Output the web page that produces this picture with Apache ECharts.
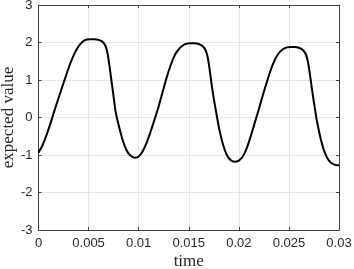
<!DOCTYPE html>
<html>
<head>
<meta charset="utf-8">
<script src="https://cdn.jsdelivr.net/npm/echarts@6/dist/echarts.min.js"></script>
<style>
html, body { margin: 0; padding: 0; background: #fff; }
#chart_div { width: 354px; height: 269px; }
</style>
</head>
<body>
<div id="chart_div"></div>
<script>
// ----------- 数据 -----------
var time_list = [
    0, 0.0004, 0.0008, 0.0012, 0.0016, 0.002, 0.0024, 0.0028, 0.0032, 0.0036,
    0.004, 0.0044, 0.0048, 0.0052, 0.0056, 0.006, 0.0064, 0.0067, 0.0069, 0.0071,
    0.0073, 0.0075, 0.0077, 0.008, 0.0084, 0.0088, 0.0092, 0.0096, 0.01, 0.0104,
    0.0108, 0.0112, 0.0116, 0.012, 0.0124, 0.0128, 0.0132, 0.0136, 0.014, 0.0144,
    0.0148, 0.0152, 0.0156, 0.016, 0.0164, 0.0167, 0.0169, 0.0171, 0.0173, 0.0175,
    0.0177, 0.018, 0.0184, 0.0188, 0.0192, 0.0196, 0.02, 0.0204, 0.0208, 0.0212,
    0.0216, 0.022, 0.0224, 0.0228, 0.0232, 0.0236, 0.024, 0.0244, 0.0248, 0.0252,
    0.0256, 0.026, 0.0264, 0.0267, 0.0269, 0.0271, 0.0273, 0.0275, 0.0278, 0.0282,
    0.0286, 0.029, 0.0294, 0.0298, 0.03
]
var value_list = [
    -0.94, -0.74, -0.47, -0.15, 0.19, 0.52, 0.84, 1.16, 1.46, 1.71,
    1.9, 2.02, 2.08, 2.09, 2.09, 2.07, 2.02, 1.9, 1.7, 1.35,
    0.95, 0.55, 0.15, -0.2, -0.6, -0.88, -1.02, -1.07, -1.04, -0.9,
    -0.67, -0.37, -0.04, 0.3, 0.69, 1.07, 1.4, 1.66, 1.82, 1.92,
    1.97, 1.98, 1.98, 1.96, 1.9, 1.78, 1.6, 1.25, 0.85, 0.5,
    0.2, -0.25, -0.7, -1.0, -1.14, -1.18, -1.15, -1.04, -0.81, -0.49,
    -0.13, 0.22, 0.6, 0.95, 1.28, 1.54, 1.72, 1.82, 1.87, 1.88,
    1.88, 1.86, 1.8, 1.68, 1.48, 1.15, 0.75, 0.4, -0.1, -0.6,
    -0.95, -1.15, -1.24, -1.27, -1.27
]
var x_name = "time"
var y_name = "expected value"

var line_data = time_list.map(function (t, i) { return [t, value_list[i]] })

// ----------- 样式 -----------
var axis_color = "#404040"
var label_style = { color: "#262626", fontFamily: "Liberation Sans", fontSize: 13 }
var name_style = { color: "#262626", fontFamily: "Liberation Serif", fontSize: 17 }

function fmt(value) {
    return String(parseFloat(value.toFixed(4)))
}

// 边框轴（无标签）
function box_axis(pos, min, max, interval) {
    return {
        type: "value", position: pos, min: min, max: max, interval: interval,
        axisLine: { show: true, onZero: false, lineStyle: { color: axis_color, width: 1 } },
        axisTick: { show: true, inside: true, length: 3, lineStyle: { color: axis_color } },
        axisLabel: { show: false },
        splitLine: { show: false }
    }
}

var chart = echarts.init(document.getElementById("chart_div"))
var option = {
    animation: false,
    grid: { left: 38.5, right: 15, top: 5, bottom: 39, containLabel: false, outerBoundsMode: "none" },
    xAxis: [
        {
            type: "value", min: 0, max: 0.03, interval: 0.005,
            name: x_name, nameLocation: "middle", nameGap: 23, nameTextStyle: name_style,
            nameMoveOverlap: false,
            axisLine: { onZero: false, lineStyle: { color: axis_color, width: 1 } },
            axisTick: { inside: true, length: 3, lineStyle: { color: axis_color } },
            axisLabel: Object.assign({ margin: 7, formatter: fmt }, label_style),
            splitLine: { show: true, lineStyle: { color: "#e6e6e6" } }
        },
        box_axis("top", 0, 0.03, 0.005)
    ],
    yAxis: [
        {
            type: "value", min: -3, max: 3, interval: 1,
            name: y_name, nameLocation: "middle", nameGap: 21, nameTextStyle: name_style,
            nameMoveOverlap: false,
            axisLine: { show: true, onZero: false, lineStyle: { color: axis_color, width: 1 } },
            axisTick: { show: true, inside: true, length: 3, lineStyle: { color: axis_color } },
            axisLabel: Object.assign({ margin: 6 }, label_style),
            splitLine: { show: true, lineStyle: { color: "#e6e6e6" } }
        },
        box_axis("right", -3, 3, 1)
    ],
    series: [
        {
            type: "line",
            data: line_data,
            smooth: 0.25,
            showSymbol: false,
            lineStyle: { color: "#000", width: 2 }
        }
    ]
}
chart.setOption(option)
</script>
</body>
</html>
